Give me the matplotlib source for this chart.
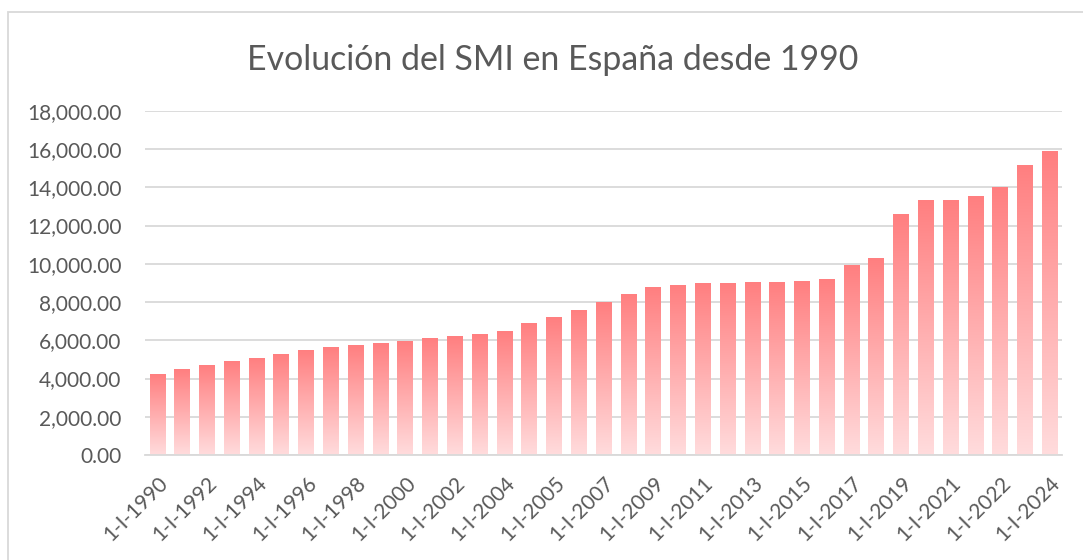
import numpy as np
import matplotlib.pyplot as plt
from matplotlib.colors import LinearSegmentedColormap
from matplotlib.patches import Rectangle
from matplotlib.ticker import FuncFormatter

plt.rcParams['font.family'] = ['Lato', 'DejaVu Sans']

fechas = ['1-I-1990', '1-I-1991', '1-I-1992', '1-I-1993', '1-I-1994', '1-I-1995',
          '1-I-1996', '1-I-1997', '1-I-1998', '1-I-1999', '1-I-2000', '1-I-2001',
          '1-I-2002', '1-I-2003', '1-I-2004', '1-VII-2004', '1-I-2005', '1-I-2006',
          '1-I-2007', '1-I-2008', '1-I-2009', '1-I-2010', '1-I-2011', '1-I-2012',
          '1-I-2013', '1-I-2014', '1-I-2015', '1-I-2016', '1-I-2017', '1-I-2018',
          '1-I-2019', '1-I-2020', '1-I-2021', '1-IX-2021', '1-I-2022', '1-I-2023',
          '1-I-2024']
smi_anual = [4208, 4463, 4705, 4892, 5041, 5278, 5489, 5620, 5729, 5828, 5947, 6069,
             6191, 6317, 6447, 6871, 7182, 7573, 7988, 8400, 8736, 8866, 8980, 8980,
             9034, 9034, 9080, 9173, 9908, 10302, 12600, 13300, 13300, 13510, 14000,
             15120, 15876]

gris = '#595959'
grid_color = '#D9D9D9'
cmap = LinearSegmentedColormap.from_list('smi', ['#FFDCDD', '#FF7F80'])

fig = plt.figure(figsize=(10.83, 5.60), dpi=100)
ax = fig.add_axes([0.134, 0.1875, 0.847, 0.6145])

x = np.arange(len(fechas))
width = 0.645
gradient = np.linspace(0, 1, 256).reshape(-1, 1)
for xi, val in zip(x, smi_anual):
    ax.imshow(gradient, cmap=cmap, origin='lower', aspect='auto',
              extent=(xi - width / 2, xi + width / 2, 0, val), zorder=2)

ax.set_xlim(-0.5, len(fechas) - 0.5)
ax.set_ylim(0, 18000)
ax.set_yticks(np.arange(0, 18001, 2000))
ax.yaxis.set_major_formatter(FuncFormatter(lambda v, p: f'{v:,.2f}'))
ax.grid(axis='y', color=grid_color, linewidth=1.3, zorder=0)
ax.set_axisbelow(True)

ax.set_xticks(x[::2])
ax.set_xticklabels(fechas[::2], rotation=45, ha='right', va='top',
                   rotation_mode='anchor')
ax.tick_params(axis='both', length=0, labelsize=15, labelcolor=gris)
ax.tick_params(axis='y', pad=17)
ax.tick_params(axis='x', pad=13)

for side in ['top', 'right', 'left']:
    ax.spines[side].set_visible(False)
ax.spines['bottom'].set_color(grid_color)
ax.spines['bottom'].set_linewidth(1.3)

fig.text(0.5105, 0.893, 'Evolución del SMI en España desde 1990', ha='center',
         va='center', fontsize=24.4, color=gris)

fig.patches.append(Rectangle((8 / 1083, -0.1), 1.2, 1 - 12 / 560 + 0.1,
                             transform=fig.transFigure, fill=False,
                             edgecolor=grid_color, linewidth=1.3))

fig.savefig('out.png', dpi=100)
